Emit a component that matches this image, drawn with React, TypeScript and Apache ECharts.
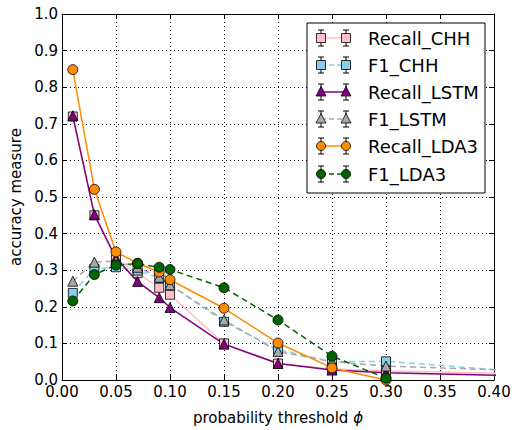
import React, { useEffect, useRef } from "react";
import * as echarts from "echarts";

const thresholds = [0.01, 0.03, 0.05, 0.07, 0.09, 0.1, 0.15, 0.2, 0.25, 0.3, 0.5];
const recallCHH = [0.72, 0.45, 0.33, 0.292, 0.252, 0.233, 0.1, 0.045, 0.03, 0.025, 0.012];
const f1CHH = [0.238, 0.304, 0.308, 0.299, 0.279, 0.26, 0.159, 0.083, 0.05, 0.051, 0.006];
const recallLSTM = [0.722, 0.452, 0.333, 0.269, 0.225, 0.198, 0.098, 0.045, 0.027, 0.02, 0.006];
const f1LSTM = [0.27, 0.322, 0.325, 0.308, 0.281, 0.26, 0.164, 0.078, 0.05, 0.038, 0.018];
const recallLDA3 = [0.848, 0.521, 0.35, 0.319, 0.295, 0.274, 0.196, 0.101, 0.033, 0.0];
const f1LDA3 = [0.216, 0.288, 0.314, 0.318, 0.308, 0.302, 0.252, 0.164, 0.065, 0.005];

const xTicksMax = 0.4;
const FONT = "DejaVu Sans";

type Spec = {
  name: string;
  data: number[];
  color: string;
  dashed: boolean;
  symbol: string;
};

const specs: Spec[] = [
  { name: "Recall_CHH", data: recallCHH, color: "#FFC0CB", dashed: false, symbol: "rect" },
  { name: "F1_CHH", data: f1CHH, color: "#87CEEB", dashed: true, symbol: "rect" },
  { name: "Recall_LSTM", data: recallLSTM, color: "#800080", dashed: false, symbol: "triangle" },
  { name: "F1_LSTM", data: f1LSTM, color: "#A9A9A9", dashed: true, symbol: "triangle" },
  { name: "Recall_LDA3", data: recallLDA3, color: "#FF8C00", dashed: false, symbol: "circle" },
  { name: "F1_LDA3", data: f1LDA3, color: "#006400", dashed: true, symbol: "circle" },
];

function legendGraphic() {
  const children: any[] = [];
  const left = 307, top = 23, w = 178, h = 170;
  children.push({
    type: "rect",
    shape: { x: left, y: top, width: w, height: h },
    style: { fill: "#fff", stroke: "#000", lineWidth: 1 },
    z: 100,
  });
  const rowY = [38, 65, 92, 119, 146, 174];
  const mx = [321, 346];
  specs.forEach((s, i) => {
    const y = rowY[i];
    children.push({
      type: "line",
      shape: { x1: mx[0], y1: y, x2: mx[1], y2: y },
      style: { stroke: s.color, lineWidth: 1.5, lineDash: s.dashed ? [5, 3] : null },
      z: 101,
    });
    mx.forEach((x) => {
      children.push({
        type: "line",
        shape: { x1: x, y1: y - 8, x2: x, y2: y + 8 },
        style: { stroke: "#000", lineWidth: 1 },
        z: 102,
      });
      children.push({
        type: "line",
        shape: { x1: x - 3, y1: y - 8, x2: x + 3, y2: y - 8 },
        style: { stroke: "#000", lineWidth: 1 },
        z: 102,
      });
      children.push({
        type: "line",
        shape: { x1: x - 3, y1: y + 8, x2: x + 3, y2: y + 8 },
        style: { stroke: "#000", lineWidth: 1 },
        z: 102,
      });
      const st = { fill: s.color, stroke: "#000", lineWidth: 0.8 };
      if (s.symbol === "rect") {
        children.push({ type: "rect", shape: { x: x - 4.5, y: y - 4.5, width: 9, height: 9 }, style: st, z: 103 });
      } else if (s.symbol === "triangle") {
        children.push({
          type: "polygon",
          shape: { points: [[x, y - 5.5], [x + 5, y + 4], [x - 5, y + 4]] },
          style: st,
          z: 103,
        });
      } else {
        children.push({ type: "circle", shape: { cx: x, cy: y, r: 4.5 }, style: st, z: 103 });
      }
    });
    children.push({
      type: "text",
      x: 368,
      y: y,
      style: { text: s.name, fontSize: 18, fontFamily: FONT, fill: "#000", verticalAlign: "middle", align: "left" },
      z: 103,
    });
  });
  return children;
}

export default function App() {
  const ref = useRef<HTMLDivElement>(null);
  useEffect(() => {
    document.body.style.margin = "0";
    const chart = echarts.init(ref.current!, null, { renderer: "svg" });
    const axisCommon = {
      type: "value",
      axisLine: { show: true, onZero: false, lineStyle: { color: "#000", width: 1 } },
      axisTick: { show: true, inside: true, length: 5, lineStyle: { color: "#000" } },
    };
    const option: any = {
      animation: false,
      backgroundColor: "#fff",
      grid: { left: 62, right: 28, top: 14, bottom: 45, containLabel: false },
      xAxis: [
        {
          ...axisCommon,
          min: 0,
          max: xTicksMax,
          interval: 0.05,
          position: "bottom",
          axisLabel: {
            formatter: (v: number) => v.toFixed(2),
            fontSize: 15,
            lineHeight: 12,
            color: "#000",
            fontFamily: FONT,
            margin: 6,
            showMinLabel: true,
            showMaxLabel: true,
          },
          splitLine: { show: true, lineStyle: { type: [1, 3], color: "#000", width: 1 } },
          name: "probability threshold {i|ϕ}",
          nameLocation: "middle",
          nameGap: 30,
          nameTextStyle: {
            fontSize: 15,
            fontFamily: FONT,
            color: "#000",
            rich: { i: { fontStyle: "italic", fontSize: 15, fontFamily: FONT } },
          },
        },
        {
          ...axisCommon,
          min: 0,
          max: xTicksMax,
          interval: 0.05,
          position: "top",
          axisLabel: { show: false },
          splitLine: { show: false },
        },
      ],
      yAxis: [
        {
          ...axisCommon,
          min: 0,
          max: 1,
          interval: 0.1,
          position: "left",
          axisLabel: {
            formatter: (v: number) => v.toFixed(1),
            fontSize: 15,
            lineHeight: 12,
            color: "#000",
            fontFamily: FONT,
            margin: 4,
            showMinLabel: true,
            showMaxLabel: true,
          },
          splitLine: { show: true, lineStyle: { type: [1, 3], color: "#000", width: 1 } },
          name: "accuracy measure",
          nameLocation: "middle",
          nameGap: 37,
          nameTextStyle: { fontSize: 15, fontFamily: FONT, color: "#000" },
        },
        {
          ...axisCommon,
          min: 0,
          max: 1,
          interval: 0.1,
          position: "right",
          axisLabel: { show: false },
          splitLine: { show: false },
        },
      ],
      series: specs.map((s) => ({
        type: "line",
        name: s.name,
        xAxisIndex: 0,
        yAxisIndex: 0,
        data: s.data.map((v, i) => [thresholds[i], v]),
        clip: true,
        symbol: s.symbol,
        symbolSize: s.symbol === "triangle" ? [10, 10] : s.symbol === "rect" ? 9 : 10,
        showAllSymbol: true,
        itemStyle: { color: s.color, borderColor: "#000", borderWidth: 0.8 },
        lineStyle: { color: s.color, width: 1.5, type: s.dashed ? [6, 4] : "solid" },
        emphasis: { disabled: true },
      })),
      graphic: legendGraphic(),
    };
    chart.setOption(option);
    return () => chart.dispose();
  }, []);
  return <div ref={ref} style={{ width: 522, height: 430 }} />;
}
